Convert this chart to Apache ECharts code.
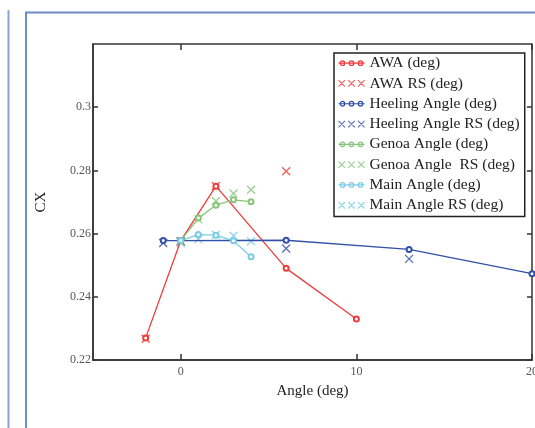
<!DOCTYPE html>
<html>
<head>
<meta charset="utf-8">
<script src="https://cdn.jsdelivr.net/npm/echarts@6/dist/echarts.min.js"></script>
<style>
  html, body { margin: 0; padding: 0; background: #fff; }
  #cxChart { width: 535px; height: 428px; }
</style>
</head>
<body>
<div id="cxChart"></div>
<script>
// tick labels
const xTicks = [0, 10, 20]
const yTicks = [0.22, 0.24, 0.26, 0.28, 0.3]

// AWA
const awaX = [-2, 0, 2, 6, 10]
const awaY = [0.227, 0.2578, 0.275, 0.249, 0.233]
const awaRsX = [-2, 0, 2, 6]
const awaRsY = [0.2267, 0.2576, 0.2751, 0.2797]
// heeling angle
const heelX = [-1, 0, 6, 13, 20]
const heelY = [0.2578, 0.2578, 0.2579, 0.255, 0.2473]
const heelRsX = [-1, 0, 6, 13]
const heelRsY = [0.257, 0.2575, 0.2553, 0.252]
// genoa angle
const genoaX = [0, 1, 2, 3, 4]
const genoaY = [0.2578, 0.2649, 0.269, 0.2707, 0.2701]
const genoaRsX = [0, 1, 2, 3, 4]
const genoaRsY = [0.2575, 0.2645, 0.2703, 0.2727, 0.2739]
// main angle
const mainX = [0, 1, 2, 3, 4]
const mainY = [0.2578, 0.2597, 0.2595, 0.2577, 0.2527]
const mainRsX = [0, 1, 2, 3, 4]
const mainRsY = [0.257, 0.2582, 0.2596, 0.2593, 0.2576]

const RED = '#ee3b3b'
const BLUE = '#3250a8'
const GREEN = '#86c67b'
const CYAN = '#7acce4'
const AXIS = '#333'
const SERIF = '"Liberation Serif", "DejaVu Serif", serif'

const circleIcon = 'path://M0 3.5L26 3.5M1.7 3.5A2.3 2.3 0 1 1 6.3 3.5A2.3 2.3 0 1 1 1.7 3.5' +
  'M10.7 3.5A2.3 2.3 0 1 1 15.3 3.5A2.3 2.3 0 1 1 10.7 3.5' +
  'M19.7 3.5A2.3 2.3 0 1 1 24.3 3.5A2.3 2.3 0 1 1 19.7 3.5'
const crossIcon = 'path://M1 0.5L7 6.5M7 0.5L1 6.5M10 0.5L16 6.5M16 0.5L10 6.5M19 0.5L25 6.5M25 0.5L19 6.5'
const crossSymbol = 'path://M0 0L10 10M10 0L0 10'

const zip = (xs, ys) => xs.map((x, i) => [x, ys[i]])

function lineSeries(name, xs, ys, color) {
  return {
    name: name,
    type: 'line',
    data: zip(xs, ys),
    symbol: 'emptyCircle',
    symbolSize: 5,
    showSymbol: true,
    lineStyle: { color: color, width: 1.3 },
    itemStyle: { color: color, borderWidth: 1 },
  }
}
function crossSeries(name, xs, ys, color) {
  return {
    name: name,
    type: 'scatter',
    data: zip(xs, ys),
    symbol: crossSymbol,
    symbolSize: 8,
    itemStyle: { color: color, borderColor: color, borderWidth: 1.4 },
  }
}
function legendItem(name, icon, color) {
  return { name: name, icon: icon, itemStyle: { color: 'none', borderColor: color, borderWidth: 1.2 } }
}

const chart = echarts.init(document.getElementById('cxChart'))
chart.setOption({
  animation: false,
  backgroundColor: '#fff',
  graphic: [
    { type: 'line', shape: { x1: 8.5, y1: 10, x2: 8.5, y2: 430 }, style: { stroke: '#8ca4d8', lineWidth: 2 } },
    { type: 'rect', shape: { x: 26, y: 12.5, width: 530, height: 430 }, style: { fill: 'none', stroke: '#6f8bc8', lineWidth: 2 } },
  ],
  grid: {
    left: 93,
    right: 3,
    top: 44,
    bottom: 68,
    outerBoundsMode: 'none',
    containLabel: false,
    show: true,
    borderColor: AXIS,
    borderWidth: 1.5,
  },
  legend: {
    orient: 'vertical',
    left: 334,
    top: 53,
    padding: [0, 5, 1, 2],
    itemGap: 0,
    itemWidth: 26,
    itemHeight: 7,
    backgroundColor: '#fff',
    borderColor: '#222',
    borderWidth: 1.5,
    textStyle: { fontFamily: SERIF, fontSize: 15.5, lineHeight: 20.3, color: '#222' },
    data: [
      legendItem('AWA (deg)', circleIcon, RED),
      legendItem('AWA RS (deg)', crossIcon, RED),
      legendItem('Heeling Angle (deg)', circleIcon, BLUE),
      legendItem('Heeling Angle RS (deg)', crossIcon, BLUE),
      legendItem('Genoa Angle (deg)', circleIcon, GREEN),
      legendItem('Genoa Angle  RS (deg)', crossIcon, GREEN),
      legendItem('Main Angle (deg)', circleIcon, CYAN),
      legendItem('Main Angle RS (deg)', crossIcon, CYAN),
    ],
  },
  xAxis: [
    {
      type: 'value',
      min: -5,
      max: 20,
      name: 'Angle (deg)',
      nameLocation: 'middle',
      nameGap: 24,
      nameTextStyle: { fontFamily: SERIF, fontSize: 15, color: '#222' },
      axisLine: { show: true, onZero: false, lineStyle: { color: AXIS, width: 1.5 } },
      axisTick: { show: true, inside: true, length: 6, customValues: xTicks, lineStyle: { color: AXIS, width: 1.5 } },
      axisLabel: { customValues: xTicks, margin: 6, alignMaxLabel: 'center', fontFamily: SERIF, fontSize: 12, color: '#555' },
      splitLine: { show: false },
    },
    {
      type: 'value',
      position: 'top',
      min: -5,
      max: 20,
      axisLine: { show: false, onZero: false },
      axisTick: { show: true, inside: true, length: 6, customValues: xTicks, lineStyle: { color: AXIS, width: 1.5 } },
      axisLabel: { show: false },
      splitLine: { show: false },
    },
  ],
  yAxis: [
    {
      type: 'value',
      min: 0.22,
      max: 0.32,
      name: 'CX',
      nameLocation: 'middle',
      nameGap: 44,
      nameTextStyle: { fontFamily: SERIF, fontSize: 15, color: '#222' },
      axisLine: { show: true, onZero: false, lineStyle: { color: AXIS, width: 1.5 } },
      axisTick: { show: true, inside: true, length: 5, customValues: yTicks, lineStyle: { color: AXIS, width: 1.5 } },
      axisLabel: {
        customValues: yTicks,
        margin: 2,
        fontFamily: SERIF,
        fontSize: 12,
        color: '#555',
        formatter: (v) => String(Math.round(v * 100) / 100),
      },
      splitLine: { show: false },
    },
    {
      type: 'value',
      position: 'right',
      min: 0.22,
      max: 0.32,
      axisLine: { show: false, onZero: false },
      axisTick: { show: true, inside: true, length: 5, customValues: yTicks, lineStyle: { color: AXIS, width: 1.5 } },
      axisLabel: { show: false },
      splitLine: { show: false },
    },
  ],
  series: [
    lineSeries('AWA (deg)', awaX, awaY, RED),
    crossSeries('AWA RS (deg)', awaRsX, awaRsY, RED),
    lineSeries('Heeling Angle (deg)', heelX, heelY, BLUE),
    crossSeries('Heeling Angle RS (deg)', heelRsX, heelRsY, BLUE),
    lineSeries('Genoa Angle (deg)', genoaX, genoaY, GREEN),
    crossSeries('Genoa Angle  RS (deg)', genoaRsX, genoaRsY, GREEN),
    lineSeries('Main Angle (deg)', mainX, mainY, CYAN),
    crossSeries('Main Angle RS (deg)', mainRsX, mainRsY, CYAN),
  ],
})
window.addEventListener('resize', () => chart.resize())
</script>
</body>
</html>
